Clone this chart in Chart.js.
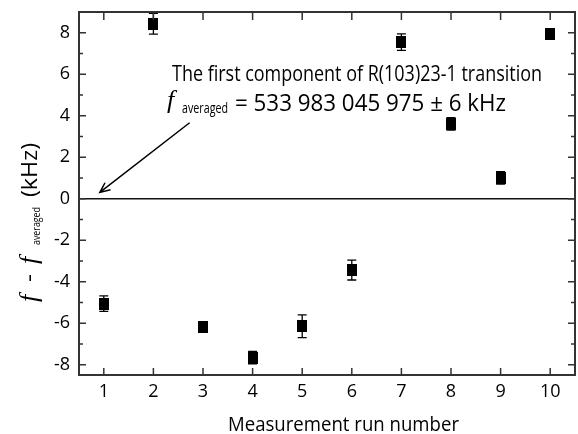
<!DOCTYPE html>
<html>
<head>
<meta charset="utf-8">
<script src="https://cdn.jsdelivr.net/npm/chart.js@4.4.1/dist/chart.umd.min.js"></script>
<style>
  html, body { margin: 0; padding: 0; background: #fff; }
</style>
</head>
<body>
<canvas id="myChart" width="578" height="434"></canvas>
<script>
// data
const runNumbers = [1, 2, 3, 4, 5, 6, 7, 8, 9, 10];
const offsets = [-5.06, 8.43, -6.2, -7.66, -6.15, -3.44, 7.55, 3.61, 1.0, 7.95];
const errors = [0.37, 0.5, 0.15, 0.3, 0.55, 0.48, 0.4, 0.3, 0.3, 0.15];

const xTicks = [1, 2, 3, 4, 5, 6, 7, 8, 9, 10];
const yTicks = [-8, -6, -4, -2, 0, 2, 4, 6, 8];
const yMinorTicks = [-7, -5, -3, -1, 1, 3, 5, 7];

const noteLine1 = 'The first component of R(103)23-1 transition';
const noteSub = 'averaged';
const noteValue = '= 533 983 045 975 \u00b1 6 kHz';
const xTitle = 'Measurement run number';

const SANS = '"Open Sans", "Noto Sans", sans-serif';
const SERIF = '"Liberation Serif", "DejaVu Serif", serif';

// filled marker, a bit taller than wide like the original
const marker = document.createElement('canvas');
marker.width = 10;
marker.height = 12;
(function () {
    const m = marker.getContext('2d');
    m.fillStyle = '#000';
    m.fillRect(0, 0, 10, 12);
})();

// draws text squeezed/stretched to a given width
function fitText(ctx, txt, x, y, w) {
    const natural = ctx.measureText(txt).width;
    ctx.save();
    ctx.translate(x, y);
    ctx.scale(w / natural, 1);
    ctx.fillText(txt, 0, 0);
    ctx.restore();
}

const errorBars = {
    id: 'errorBars',
    beforeDatasetsDraw(chart) {
        const ctx = chart.ctx;
        const xs = chart.scales.x, ys = chart.scales.y;
        ctx.save();
        ctx.strokeStyle = '#000';
        ctx.lineWidth = 1.3;
        for (let i = 0; i < runNumbers.length; i++) {
            const px = xs.getPixelForValue(runNumbers[i]);
            const top = ys.getPixelForValue(offsets[i] + errors[i]);
            const bot = ys.getPixelForValue(offsets[i] - errors[i]);
            ctx.beginPath();
            ctx.moveTo(px, top); ctx.lineTo(px, bot);
            ctx.moveTo(px - 4.5, top); ctx.lineTo(px + 4.5, top);
            ctx.moveTo(px - 4.5, bot); ctx.lineTo(px + 4.5, bot);
            ctx.stroke();
        }
        ctx.restore();
    }
};

const frameAndNotes = {
    id: 'frameAndNotes',
    afterDraw(chart) {
        const ctx = chart.ctx;
        const a = chart.chartArea;
        const xs = chart.scales.x, ys = chart.scales.y;
        ctx.save();

        // zero line
        const y0 = ys.getPixelForValue(0);
        ctx.strokeStyle = '#111';
        ctx.lineWidth = 1.4;
        ctx.beginPath();
        ctx.moveTo(a.left, y0); ctx.lineTo(a.right, y0);
        ctx.stroke();

        // frame
        ctx.strokeStyle = '#333';
        ctx.lineWidth = 2;
        ctx.strokeRect(a.left, a.top, a.right - a.left, a.bottom - a.top);

        // inward ticks on all four sides
        ctx.lineWidth = 1.5;
        ctx.beginPath();
        xTicks.forEach(v => {
            const p = xs.getPixelForValue(v);
            ctx.moveTo(p, a.bottom); ctx.lineTo(p, a.bottom - 7);
            ctx.moveTo(p, a.top); ctx.lineTo(p, a.top + 8);
        });
        yTicks.forEach(v => {
            const p = ys.getPixelForValue(v);
            ctx.moveTo(a.left, p); ctx.lineTo(a.left + 7, p);
            ctx.moveTo(a.right, p); ctx.lineTo(a.right - 7, p);
        });
        yMinorTicks.forEach(v => {
            const p = ys.getPixelForValue(v);
            ctx.moveTo(a.left, p); ctx.lineTo(a.left + 4, p);
            ctx.moveTo(a.right, p); ctx.lineTo(a.right - 4, p);
        });
        ctx.stroke();

        // arrow pointing at the zero line
        const ax1 = xs.getPixelForValue(2.73), ay1 = ys.getPixelForValue(3.66);
        const ax2 = xs.getPixelForValue(0.92), ay2 = ys.getPixelForValue(0.3);
        ctx.strokeStyle = '#000';
        ctx.lineWidth = 1.5;
        ctx.beginPath();
        ctx.moveTo(ax1, ay1); ctx.lineTo(ax2, ay2);
        const ang = Math.atan2(ay2 - ay1, ax2 - ax1);
        const hl = 11, hw = 0.42;
        ctx.moveTo(ax2 - hl * Math.cos(ang - hw), ay2 - hl * Math.sin(ang - hw));
        ctx.lineTo(ax2, ay2);
        ctx.lineTo(ax2 - hl * Math.cos(ang + hw), ay2 - hl * Math.sin(ang + hw));
        ctx.stroke();

        // annotation text
        ctx.fillStyle = '#000';
        ctx.textBaseline = 'alphabetic';
        ctx.textAlign = 'left';
        ctx.font = '22px ' + SANS;
        fitText(ctx, noteLine1, 172, 81, 370);
        ctx.font = 'italic 26px ' + SERIF;
        ctx.fillText('f', 167, 108);
        ctx.font = '15px ' + SANS;
        fitText(ctx, noteSub, 182, 113, 46);
        ctx.font = '24px ' + SANS;
        fitText(ctx, noteValue, 235, 111, 271);

        // x axis title
        ctx.font = '20px ' + SANS;
        fitText(ctx, xTitle, 228, 431, 231);

        // y axis title, rotated, built from pieces along the axis
        ctx.save();
        ctx.translate(37, 302);
        ctx.rotate(-Math.PI / 2);
        ctx.font = 'italic 26px ' + SERIF;
        ctx.fillText('f', 0, 0);
        ctx.font = '22px ' + SANS;
        fitText(ctx, '-', 20, -1, 8);
        ctx.font = 'italic 26px ' + SERIF;
        ctx.fillText('f', 38, 0);
        ctx.font = '11px ' + SANS;
        fitText(ctx, noteSub, 57, 3, 38);
        ctx.font = '22px ' + SANS;
        fitText(ctx, '(kHz)', 105, 0, 54);
        ctx.restore();

        ctx.restore();
    }
};

const ctx = document.getElementById('myChart').getContext('2d');
const chart = new Chart(ctx, {
    type: 'scatter',
    data: {
        datasets: [{
            label: 'f - f averaged',
            data: runNumbers.map((r, i) => ({ x: r, y: offsets[i] })),
            pointStyle: marker,
            pointRadius: 5,
            pointHoverRadius: 5,
            backgroundColor: '#000',
            borderColor: '#000',
            showLine: false
        }]
    },
    options: {
        responsive: false,
        animation: false,
        layout: { autoPadding: false, padding: { top: 12, right: 3, left: 0, bottom: 0 } },
        plugins: {
            legend: { display: false },
            tooltip: { enabled: false },
            title: { display: false }
        },
        scales: {
            x: {
                type: 'linear',
                min: 0.5,
                max: 10.5,
                afterBuildTicks: s => { s.ticks = xTicks.map(v => ({ value: v })); },
                afterFit: s => { s.height = 59; s.paddingLeft = 0; s.paddingRight = 0; },
                grid: { display: false, drawTicks: false },
                border: { display: false },
                ticks: {
                    padding: 6,
                    color: '#000',
                    font: { family: SANS, size: 18 },
                    maxRotation: 0
                }
            },
            y: {
                min: -8.5,
                max: 9,
                afterBuildTicks: s => { s.ticks = yTicks.map(v => ({ value: v })); },
                afterFit: s => { s.width = 79; s.paddingTop = 0; s.paddingBottom = 0; },
                grid: { display: false, drawTicks: false },
                border: { display: false },
                ticks: {
                    padding: 9,
                    color: '#000',
                    font: { family: SANS, size: 18 }
                }
            }
        }
    },
    plugins: [errorBars, frameAndNotes]
});
</script>
</body>
</html>
